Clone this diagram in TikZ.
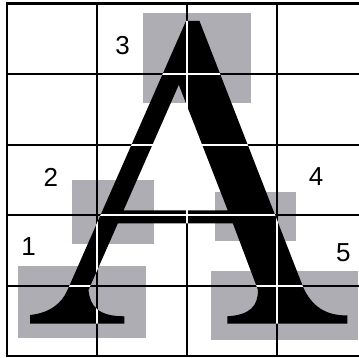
\documentclass[tikz,border=0pt]{standalone}
\usepackage{fontspec}
\setmainfont{Liberation Sans}
\usepackage{tikz}

\definecolor{shade}{RGB}{174,173,179}
% outline of the letter with its counter
\newcommand{\letterA}{(186,21) -- (199.5,21) -- (303.5,288)
  .. controls (312,306) and (325,315.5) .. (347.3,315.5) -- (347.3,323.7)
  -- (227.3,323.7) -- (227.3,316.3) .. controls (250,315) and (258,306) .. (258,290)
  -- (232.9,223.5) -- (117.8,223.5) -- (88.5,290)
  .. controls (90,306) and (98,316.3) .. (124.3,316.3) -- (124.3,323.7)
  -- (30,323.7) -- (30,315) .. controls (50,313) and (62,303) .. (67.5,290) -- cycle
  (178.8,84.8) -- (227.8,210.5) -- (123.5,210.5) -- cycle}

\begin{document}
\begin{tikzpicture}[x=1pt, y=-1pt,
  gridline/.style={line width=2.4pt, line cap=rect},
  cutline/.style={white, line width=1.3pt},
  patch/.style={fill=shade},
  num/.style={inner sep=0pt, font=\fontsize{26}{26}\selectfont},
]
\useasboundingbox (0,0) rectangle (359,358);
% grey patches behind the letter
\fill[patch] (143.3,12.7) rectangle (250.7,102.7);
\fill[patch] (72.3,179.7) rectangle (154,243.7);
\fill[patch] (18.3,266.3) rectangle (145.7,338);
\fill[patch] (214.5,192) rectangle (295.8,241.3);
\fill[patch] (210.7,270.7) rectangle (357.5,339.5);
% grid
\foreach \x in {7,97,187,277} \draw[gridline] (\x,3.5) -- (\x,356);
\foreach \y in {3.5,74,145,215,286,356} \draw[gridline] (7,\y) -- (359,\y);
% letter
\fill[black, even odd rule] \letterA;
\begin{scope}
  \clip \letterA;
  \foreach \x in {7,97,187,277} \draw[cutline] (\x,0) -- (\x,358);
  \foreach \y in {3.5,74,145,215,286,356} \draw[cutline] (0,\y) -- (359,\y);
\end{scope}
% numbers
\node[num] (n3) at (122.5,45.3) {3};
\node[num] (n2) at (50.8,177.5) {2};
\node[num] (n1) at (28.5,246.7) {1};
\node[num] (n4) at (316,176.7) {4};
\node[num] (n5) at (343.3,252.5) {5};
\end{tikzpicture}
\end{document}
